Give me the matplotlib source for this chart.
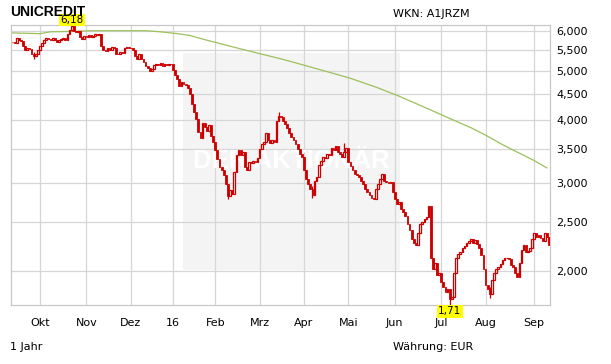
import matplotlib
matplotlib.use("Agg")
import matplotlib.pyplot as plt
from matplotlib.patches import Rectangle
from matplotlib.ticker import NullLocator
import matplotlib.transforms as mtransforms
import numpy as np
import pandas as pd

# Tagesschlusskurse (EUR), Monat fuer Monat
close_sep15 = [5.72, 5.68, 5.83, 5.78, 5.74, 5.62, 5.50, 5.56, 5.53, 5.42, 5.35, 5.40, 5.52]
close_okt = [5.62, 5.70, 5.78, 5.82, 5.80, 5.78, 5.82, 5.76, 5.72, 5.78, 5.80, 5.82,
             5.78, 5.92, 6.05, 6.15, 6.02, 5.98, 6.00, 5.85, 5.80, 5.88]
close_nov = [5.86, 5.90, 5.85, 5.88, 5.92, 5.90, 5.93, 5.62, 5.52, 5.48, 5.55, 5.52,
             5.58, 5.55, 5.42, 5.40, 5.46, 5.44, 5.55, 5.58, 5.56]
close_dez = [5.55, 5.52, 5.35, 5.30, 5.40, 5.28, 5.22, 5.12, 5.08, 5.00, 5.05, 5.15,
             5.18, 5.14, 5.20, 5.12, 5.16, 5.14, 5.18, 5.16]
close_jan = [5.02, 4.92, 4.82, 4.68, 4.75, 4.72, 4.70, 4.62, 4.50, 4.30, 4.15, 4.02,
             3.78, 3.68, 3.95, 3.88, 3.80, 3.90, 3.72, 3.62]
close_feb = [3.48, 3.35, 3.22, 3.18, 3.10, 2.98, 2.82, 2.90, 2.85, 3.15, 3.40, 3.48,
             3.40, 3.45, 3.22, 3.18, 3.30, 3.28, 3.32, 3.30, 3.36]
close_mrz = [3.50, 3.58, 3.62, 3.76, 3.64, 3.60, 3.64, 3.62, 3.98, 4.08, 4.05, 3.98,
             3.92, 3.85, 3.76, 3.70, 3.64, 3.58, 3.50, 3.42, 3.38]
close_apr = [3.18, 3.05, 2.98, 2.92, 2.84, 3.02, 3.08, 3.25, 3.32, 3.38, 3.36, 3.42,
             3.40, 3.52, 3.48, 3.55, 3.46, 3.42, 3.38, 3.45, 3.52]
close_mai = [3.30, 3.24, 3.18, 3.12, 3.10, 3.08, 3.02, 2.98, 2.92, 2.88, 2.84, 2.80,
             2.78, 2.92, 2.98, 3.05, 3.12, 3.02, 3.01, 3.00, 3.01, 2.88]
close_jun = [2.78, 2.72, 2.74, 2.66, 2.62, 2.58, 2.48, 2.42, 2.32, 2.28, 2.25, 2.38,
             2.48, 2.50, 2.54, 2.56, 2.70, 2.12, 2.02, 2.08, 1.96, 1.98]
close_jul = [1.90, 1.86, 1.82, 1.84, 1.76, 1.78, 1.98, 2.12, 2.16, 2.18, 2.22, 2.24,
             2.27, 2.30, 2.32, 2.28, 2.31, 2.26, 2.22, 2.15, 2.02]
close_aug = [1.88, 1.84, 1.80, 1.92, 1.98, 2.02, 2.04, 2.07, 2.10, 2.12, 2.12, 2.11,
             2.06, 2.04, 1.98, 1.95, 2.08, 2.20, 2.25, 2.18, 2.19, 2.22, 2.32]
close_sep16 = [2.38, 2.34, 2.36, 2.33, 2.30, 2.38, 2.34, 2.25]

# auffaellige Dochte (Handelstag-Index, Tief, Hoch)
wick_idx = [10, 28, 102, 126, 142, 157, 207, 226]
wick_lo = [5.30, 6.00, 2.78, 4.00, 2.80, 3.45, 1.71, 1.77]
wick_hi = [5.45, 6.18, 2.92, 4.15, 2.95, 3.60, 1.80, 1.86]

# gleitender Durchschnitt (Index, Wert)
ma_idx = [0, 6, 13, 18, 27, 37, 51, 63, 70, 78, 84, 89, 93, 105, 117, 128, 138,
          149, 160, 172, 183, 195, 208, 217, 224, 231, 239, 247, 253]
ma_val = [5.96, 5.95, 5.94, 5.99, 6.00, 6.02, 6.02, 6.02, 5.99, 5.94, 5.89, 5.81,
          5.75, 5.58, 5.42, 5.28, 5.14, 4.99, 4.84, 4.65, 4.46, 4.24, 4.01, 3.86,
          3.73, 3.59, 3.45, 3.32, 3.21]

month_labels = ["Okt", "Nov", "Dez", "16", "Feb", "Mrz", "Apr", "Mai", "Jun", "Jul", "Aug", "Sep"]
ytick_vals = [2.0, 2.5, 3.0, 3.5, 4.0, 4.5, 5.0, 5.5, 6.0]

closes = np.array(close_sep15 + close_okt + close_nov + close_dez + close_jan + close_feb
                  + close_mrz + close_apr + close_mai + close_jun + close_jul + close_aug
                  + close_sep16)
holidays = pd.to_datetime(["2015-12-24", "2015-12-25", "2015-12-31", "2016-01-01",
                           "2016-03-25", "2016-03-28"])
dates = pd.bdate_range("2015-09-14", "2016-09-12")
dates = dates[~dates.isin(holidays)][:len(closes)]
idx = np.arange(len(closes))
opens = np.concatenate([[closes[0]], closes[:-1]])

red = "#cc0000"
grid_c = "#d6d6d6"

fig = plt.figure(figsize=(6.11, 3.64), dpi=100)
ax = fig.add_axes([10.7 / 611, 1 - 305 / 364, 539.3 / 611, 280 / 364])
ax.set_yscale("log")
ax.set_xlim(-0.87, 254.5)
ax.set_ylim(1.712, 6.18)

# Wasserzeichen
ax.add_patch(Rectangle((0.3195, 0.125), 0.4025, 0.775, transform=ax.transAxes,
                       facecolor="#f4f4f4", edgecolor="none", zorder=0))
ax.text(0.52, 0.515, "DER AKTIONÄR", transform=ax.transAxes, ha="center", va="center",
        fontsize=18.5, fontweight="bold", color="white", zorder=1.5,
        family="Liberation Sans")

# Gitter
month_pos = [i for i in range(1, len(dates)) if dates[i].month != dates[i - 1].month]
ax.set_xticks(month_pos)
ax.set_xticklabels(month_labels[:len(month_pos)])
ax.set_yticks(ytick_vals)
ax.set_yticklabels([f"{v:.3f}".replace(".", ",") for v in ytick_vals])
ax.yaxis.set_minor_locator(NullLocator())
ax.grid(True, color=grid_c, lw=0.9, zorder=1)
ax.set_axisbelow(True)
for s in ax.spines.values():
    s.set_color("#c8c8c8")
    s.set_linewidth(0.9)
ax.yaxis.tick_right()
ax.tick_params(axis="both", length=0, labelsize=8, colors="#000000")
ax.tick_params(axis="x", pad=9)
ax.tick_params(axis="y", pad=4.5)

# Durchschnittslinie
ax.plot(ma_idx, ma_val, color="#9cc05c", lw=0.9, zorder=2)

# Kerzen
ax.vlines(wick_idx, wick_lo, wick_hi, color=red, lw=0.9, zorder=3)
up = closes >= opens
body_lo = np.minimum(opens, closes)
body_h = np.maximum(np.abs(closes - opens), 0.008)
ax.bar(idx[~up], body_h[~up], bottom=body_lo[~up], width=0.85, color=red,
       edgecolor=red, lw=0.6, zorder=4)
ax.bar(idx[up], body_h[up], bottom=body_lo[up], width=0.8, facecolor="white",
       edgecolor=red, lw=0.9, zorder=4)

# Hoch / Tief Markierungen
blend = mtransforms.blended_transform_factory(ax.transData, ax.transAxes)
hi_i = wick_idx[int(np.argmax(wick_hi))]
lo_i = wick_idx[int(np.argmin(wick_lo))]
ax.text(hi_i, 1.0, f"{max(wick_hi):.2f}".replace(".", ","), transform=blend, ha="center",
        va="bottom", fontsize=7.5, bbox=dict(boxstyle="square,pad=0.12", fc="#ffff00", ec="none"),
        clip_on=False, zorder=6)
ax.text(lo_i, -0.005, f"{min(wick_lo):.2f}".replace(".", ","), transform=blend, ha="center",
        va="top", fontsize=7.5, bbox=dict(boxstyle="square,pad=0.12", fc="#ffff00", ec="none"),
        clip_on=False, zorder=6)

fig.text(10 / 611, 1 - 12 / 364, "UNICREDIT", fontsize=10, fontweight="bold",
         family="Liberation Sans", va="center", ha="left")
fig.text(393 / 611, 1 - 14 / 364, "WKN: A1JRZM", fontsize=8, va="center", ha="left")
fig.text(10 / 611, 1 - 347 / 364, "1 Jahr", fontsize=8, va="center", ha="left")
fig.text(393 / 611, 1 - 347 / 364, "Währung: EUR", fontsize=8, va="center", ha="left")

fig.savefig("out.png", dpi=100)
